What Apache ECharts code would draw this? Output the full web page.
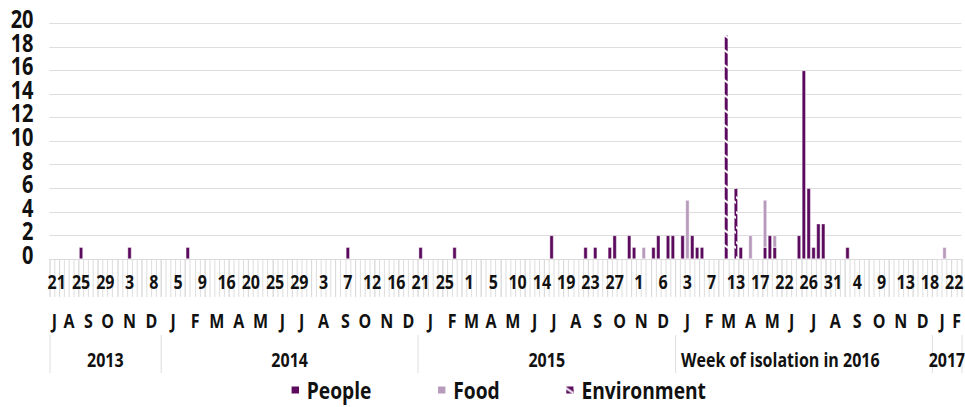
<!DOCTYPE html>
<html><head><meta charset="utf-8">
<script src="https://cdn.jsdelivr.net/npm/echarts@6/dist/echarts.min.js"></script>
<style>
html,body{margin:0;padding:0;background:#fff;overflow:hidden;width:965px;height:407px}
#c{width:1206.25px;height:407px;transform:scaleX(0.8);transform-origin:0 0}
</style>
</head><body><div id="c"></div>
<script>
// ---------- data ----------
const years = ['2013', '2014', '2015', 'Week of isolation in 2016', '2017'];
const yearMonths = [
  ['J','A','S','O','N','D'],
  ['J','F','M','A','M','J','J','A','S','O','N','D'],
  ['J','F','M','A','M','J','J','A','S','O','N','D'],
  ['J','F','M','A','M','J','J','A','S','O','N','D'],
  ['J','F']
];
const yearMonthWeeks = [
  [2,4,4,4,5,4],
  [5,4,5,4,5,4,4,5,4,4,5,4],
  [5,4,4,4,5,4,4,5,4,5,4,5],
  [5,4,4,5,4,4,5,4,5,4,5,4],
  [4,2]
];
const weekTickLabels = ['21','25','29','3','8','5','9','16','20','25','29','3','7','12','16','21','25','1','5','10','14','19','23','27','1','6','3','7','13','17','22','26','31','4','9','13','18','22'];

const peopleWeeks  = [6,16,28,61,76,83,103,110,112,115,116,119,120,124,125,127,128,130,132,133,134,142,147,148,149,154,155,156,157,158,159,164];
const peopleCounts = [1,1,1,1,1,1,2,1,1,1,2,2,1,1,2,2,2,2,2,1,1,1,1,2,1,2,16,6,1,3,3,1];
const foodWeeks  = [122,131,144,147,149,184];
const foodCounts = [1,5,2,4,1,1];
const envWeeks  = [139,141];
const envCounts = [19,6];

const yTicks = {min: 0, max: 20, step: 2};

// ---------- build categories ----------
const categories = [];
const monthStart = new Set(), yearStart = new Set();
const monthLabel = new Map(), yearLabel = new Map();
years.forEach((yr, y) => {
  const yStartIdx = categories.length;
  yearStart.add(categories.length);
  yearMonths[y].forEach((m, mi) => {
    const n = yearMonthWeeks[y][mi];
    const s = categories.length;
    monthStart.add(s);
    for (let k = 0; k < n; k++) categories.push(yr + '|' + mi + '|' + k);
    const mid = categories[s + Math.floor((n - 1) / 2)];
    monthLabel.set(mid, {t: m, even: n % 2 === 0});
  });
  const n = categories.length - yStartIdx;
  const mid = categories[yStartIdx + Math.floor((n - 1) / 2)];
  yearLabel.set(mid, {t: yr, even: n % 2 === 0, long: yr.length > 6});
});
const N = categories.length;
const weekLabel = new Map();
weekTickLabels.forEach((t, k) => weekLabel.set(categories[1 + 5 * k], t));

function series(weeks, counts) {
  const arr = new Array(N).fill(null);
  weeks.forEach((w, i) => { arr[w] = counts[i]; });
  return arr;
}

// ---------- style ----------
const S = 0.8;                 // horizontal condensing of the whole drawing
const FONT = "'Open Sans','Liberation Sans',sans-serif";
const TXT = '#111';
const PEOPLE = '#5b0a5d';
const FOOD = '#b89bbc';
const LINE = '#d9d9d9';
const GRID_W = 912 / S;
const CAT_W = GRID_W / N;

function hatch() {
  const c = document.createElement('canvas');
  c.width = 10; c.height = 15;
  const g = c.getContext('2d');
  g.fillStyle = PEOPLE; g.fillRect(0, 0, 10, 15);
  g.strokeStyle = '#fff'; g.lineWidth = 2.2;
  [[-2, 1, 12, 9], [-2, 16, 12, 24], [-2, -14, 12, -6]].forEach(p => {
    g.beginPath(); g.moveTo(p[0], p[1]); g.lineTo(p[2], p[3]); g.stroke();
  });
  return c;
}

const richBase = {fontFamily: FONT, fontSize: 20, fontWeight: 'bold', color: TXT};
const chart = echarts.init(document.getElementById('c'), null, {renderer: 'svg'});
const barCommon = {type: 'bar', stack: 'total', barWidth: 3.8 / S, emphasis: {disabled: true}};

// y axis: labels split over two coincident axes (alternate ticks) so none is dropped
function yAxisDef(parity, showGrid) {
  return {
    type: 'value', min: yTicks.min, max: yTicks.max, interval: yTicks.step, position: 'left',
    axisLine: {show: false}, axisTick: {show: false},
    splitLine: {show: showGrid, lineStyle: {color: LINE, width: 1}},
    axisLabel: {
      margin: 16 / S, hideOverlap: false,
      formatter: v => (Math.round((v - yTicks.min) / yTicks.step) % 2 === parity) ? '{a|' + v + '}\n{s| }' : '',
      rich: {
        a: {fontFamily: FONT, fontSize: 25, fontWeight: 'bold', color: TXT, lineHeight: 14},
        s: {fontSize: 1, lineHeight: 9}
      }
    }
  };
}

chart.setOption({
  animation: false,
  backgroundColor: '#fff',
  grid: {left: 49.5 / S, top: 23.3, width: GRID_W, height: 235.7, outerBoundsMode: 'none', containLabel: false},
  legend: {
    left: 290 / S, top: 377, padding: 0, itemGap: 65 / S, itemWidth: 9 / S, itemHeight: 9, icon: 'rect',
    textStyle: {fontFamily: FONT, fontSize: 24, fontWeight: 'bold', color: TXT, lineHeight: 26, padding: [0, 0, 0, 3 / S]},
    data: ['People', 'Food', 'Environment']
  },
  xAxis: [
    {
      type: 'category', data: categories, position: 'bottom',
      axisLine: {show: true, lineStyle: {color: LINE, width: 1}},
      axisTick: {show: true, interval: 0, length: 38, lineStyle: {color: LINE, width: 1}},
      axisLabel: {
        interval: (i, v) => weekLabel.has(v), showMinLabel: true, showMaxLabel: true, hideOverlap: false,
        formatter: v => weekLabel.get(v) || '',
        fontFamily: FONT, fontSize: 20, fontWeight: 'bold', color: TXT, margin: 12
      },
      splitLine: {show: false}
    },
    {
      type: 'category', data: categories, position: 'bottom', offset: 38,
      axisLine: {show: false},
      axisTick: {show: true, interval: (i, v) => monthStart.has(i), length: 38, lineStyle: {color: LINE, width: 1}},
      axisLabel: {
        interval: (i, v) => monthLabel.has(v), showMinLabel: true, showMaxLabel: true, hideOverlap: false,
        formatter: v => { const o = monthLabel.get(v); return o ? (o.even ? '{e|' + o.t + '}' : '{o|' + o.t + '}') : ''; },
        rich: {e: Object.assign({padding: [0, 0, 0, CAT_W]}, richBase), o: Object.assign({}, richBase)},
        fontFamily: FONT, fontSize: 20, fontWeight: 'bold', color: TXT, margin: 13
      }
    },
    {
      type: 'category', data: categories, position: 'bottom', offset: 76,
      axisLine: {show: false},
      axisTick: {show: true, interval: (i, v) => yearStart.has(i), length: 38, lineStyle: {color: LINE, width: 1}},
      axisLabel: {
        interval: (i, v) => yearLabel.has(v), showMinLabel: true, showMaxLabel: true, hideOverlap: false,
        formatter: v => { const o = yearLabel.get(v); if (!o) return ''; return o.long ? '{l|' + o.t + '}' : (o.even ? '{e|' + o.t + '}' : '{o|' + o.t + '}'); },
        rich: {e: Object.assign({padding: [0, 0, 0, CAT_W]}, richBase), o: Object.assign({}, richBase),
               l: Object.assign({padding: [0, 47 / S, 0, 0]}, richBase)},
        fontFamily: FONT, fontSize: 20, fontWeight: 'bold', color: TXT, margin: 14
      }
    }
  ],
  yAxis: [yAxisDef(0, true), yAxisDef(1, false)],
  series: [
    Object.assign({name: 'People', data: series(peopleWeeks, peopleCounts), color: PEOPLE,
      itemStyle: {borderColor: '#fff', borderWidth: 0.5}}, barCommon),
    Object.assign({name: 'Food', data: series(foodWeeks, foodCounts), color: FOOD,
      itemStyle: {borderColor: '#fff', borderWidth: 0.5}}, barCommon),
    Object.assign({name: 'Environment', data: series(envWeeks, envCounts),
      itemStyle: {color: {image: hatch(), imageWidth: 10, imageHeight: 15, repeat: 'repeat'}, borderColor: '#fff', borderWidth: 0.5}}, barCommon)
  ]
});
</script></body></html>
